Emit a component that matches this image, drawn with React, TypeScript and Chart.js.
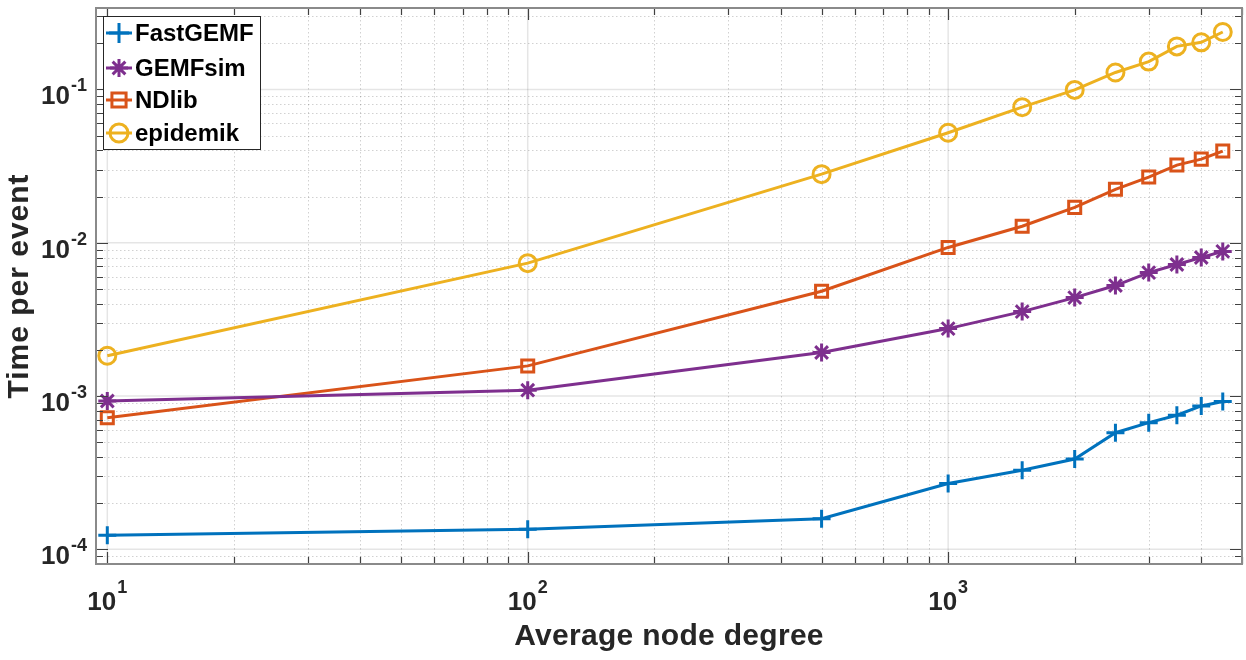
import React, { useEffect, useRef } from "react";
import { Chart, registerables } from "chart.js";

Chart.register(...registerables);

const degrees = [10, 100, 500, 1000, 1500, 2000, 2500, 3000, 3500, 4000, 4500];
const fastGEMF = [1.23e-4, 1.35e-4, 1.58e-4, 2.68e-4, 3.27e-4, 3.87e-4, 5.75e-4, 6.69e-4, 7.48e-4, 8.6e-4, 9.2e-4];
const gemfSim = [9.27e-4, 1.09e-3, 1.92e-3, 2.75e-3, 3.55e-3, 4.38e-3, 5.25e-3, 6.38e-3, 7.2e-3, 8.0e-3, 8.77e-3];
const ndlib = [7.21e-4, 1.57e-3, 4.82e-3, 9.31e-3, 1.28e-2, 1.7e-2, 2.23e-2, 2.68e-2, 3.21e-2, 3.51e-2, 3.96e-2];
const epidemik = [1.83e-3, 7.35e-3, 2.8e-2, 5.22e-2, 7.66e-2, 9.93e-2, 0.129, 0.152, 0.191, 0.203, 0.237];

const seriesNames = ["FastGEMF", "GEMFsim", "NDlib", "epidemik"];
const seriesColors = ["#0072BD", "#7E2F8E", "#D95319", "#EDB120"];
const seriesMarkers = ["cross", "star", "rect", "circle"];
const seriesRadius = [9, 9, 8.5, 8.5];
const legendRadius = [10, 9, 10, 9];

const xMin = 9.4;
const xMax = 5000;
const yMin = 8e-5;
const yMax = 0.34;
const xTickExps = [1, 2, 3];
const yTickExps = [-4, -3, -2, -1];
const xTitle = "Average node degree";
const yTitle = "Time per event";

const W = 1246;
const H = 660;
const FONT = "'Liberation Sans', Arial, sans-serif";
const TEXT = "#262626";

function logValues(min: number, max: number) {
  const out: { v: number; major: boolean }[] = [];
  for (let d = Math.floor(Math.log10(min)); d <= Math.ceil(Math.log10(max)); d++) {
    for (let m = 1; m <= 9; m++) {
      const v = m * Math.pow(10, d);
      if (v >= min * 0.9999 && v <= max * 1.0001) out.push({ v, major: m === 1 });
    }
  }
  return out;
}

function drawPow(ctx: CanvasRenderingContext2D, exp: number, cx: number | null, right: number | null, baseY: number, supDy: number) {
  const base = "10";
  const sup = String(exp);
  ctx.font = `bold 26px ${FONT}`;
  const wb = ctx.measureText(base).width;
  ctx.font = `bold 18px ${FONT}`;
  const ws = ctx.measureText(sup).width;
  const total = wb + ws + 1;
  const x0 = cx !== null ? cx - total / 2 : (right as number) - total;
  ctx.fillStyle = TEXT;
  ctx.textAlign = "left";
  ctx.textBaseline = "alphabetic";
  ctx.font = `bold 26px ${FONT}`;
  ctx.fillText(base, x0, baseY);
  ctx.font = `bold 18px ${FONT}`;
  ctx.fillText(sup, x0 + wb + 1, baseY - supDy);
}

function drawMarker(ctx: CanvasRenderingContext2D, style: string, x: number, y: number, r: number) {
  ctx.beginPath();
  if (style === "cross") {
    ctx.moveTo(x, y - r);
    ctx.lineTo(x, y + r);
    ctx.moveTo(x - r, y);
    ctx.lineTo(x + r, y);
  } else if (style === "star") {
    ctx.moveTo(x, y - r);
    ctx.lineTo(x, y + r);
    ctx.moveTo(x - r, y);
    ctx.lineTo(x + r, y);
    const d = r * Math.SQRT1_2;
    ctx.moveTo(x - d, y - d);
    ctx.lineTo(x + d, y + d);
    ctx.moveTo(x - d, y + d);
    ctx.lineTo(x + d, y - d);
  } else if (style === "rect") {
    const s = r * Math.SQRT1_2;
    ctx.rect(x - s, y - s, 2 * s, 2 * s);
  } else {
    ctx.arc(x, y, r, 0, Math.PI * 2);
  }
  ctx.stroke();
}

const matlabPlugin = {
  id: "matlabAxes",
  beforeDatasetsDraw(chart: any) {
    const { ctx, chartArea: a, scales } = chart;
    const xs = scales.x;
    const ys = scales.y;
    ctx.save();
    ctx.lineWidth = 1;
    ctx.setLineDash([1.5, 2.5]);
    ctx.strokeStyle = "rgba(0,0,0,0.18)";
    for (const t of logValues(xMin, xMax)) {
      if (t.major) continue;
      const px = Math.round(xs.getPixelForValue(t.v)) + 0.5;
      ctx.beginPath();
      ctx.moveTo(px, a.top);
      ctx.lineTo(px, a.bottom);
      ctx.stroke();
    }
    for (const t of logValues(yMin, yMax)) {
      if (t.major) continue;
      const py = Math.round(ys.getPixelForValue(t.v)) + 0.5;
      ctx.beginPath();
      ctx.moveTo(a.left, py);
      ctx.lineTo(a.right, py);
      ctx.stroke();
    }
    ctx.setLineDash([]);
    ctx.strokeStyle = "rgba(0,0,0,0.1)";
    ctx.lineWidth = 1.5;
    for (const e of xTickExps) {
      const px = xs.getPixelForValue(Math.pow(10, e));
      ctx.beginPath();
      ctx.moveTo(px, a.top);
      ctx.lineTo(px, a.bottom);
      ctx.stroke();
    }
    for (const e of yTickExps) {
      const py = ys.getPixelForValue(Math.pow(10, e));
      ctx.beginPath();
      ctx.moveTo(a.left, py);
      ctx.lineTo(a.right, py);
      ctx.stroke();
    }
    ctx.restore();
  },
  afterDraw(chart: any) {
    const { ctx, chartArea: a, scales } = chart;
    const xs = scales.x;
    const ys = scales.y;
    ctx.save();
    ctx.strokeStyle = "#404040";
    ctx.lineWidth = 1.2;
    for (const t of logValues(xMin, xMax)) {
      const px = Math.round(xs.getPixelForValue(t.v)) + 0.5;
      const len = t.major ? 12 : 7;
      ctx.beginPath();
      ctx.moveTo(px, a.bottom);
      ctx.lineTo(px, a.bottom - len);
      ctx.moveTo(px, a.top);
      ctx.lineTo(px, a.top + len);
      ctx.stroke();
    }
    for (const t of logValues(yMin, yMax)) {
      const py = Math.round(ys.getPixelForValue(t.v)) + 0.5;
      const len = t.major ? 12 : 7;
      ctx.beginPath();
      ctx.moveTo(a.left, py);
      ctx.lineTo(a.left + len, py);
      ctx.moveTo(a.right, py);
      ctx.lineTo(a.right - len, py);
      ctx.stroke();
    }
    ctx.strokeStyle = "#8a8a8a";
    ctx.lineWidth = 2;
    ctx.strokeRect(a.left, a.top, a.right - a.left, a.bottom - a.top);

    for (const e of xTickExps) {
      const px = xs.getPixelForValue(Math.pow(10, e));
      drawPow(ctx, e, px, null, a.bottom + 46, 17);
    }
    for (const e of yTickExps) {
      const py = ys.getPixelForValue(Math.pow(10, e));
      drawPow(ctx, e, null, a.left - 9, py + 15, 13);
    }

    ctx.fillStyle = TEXT;
    ctx.textAlign = "center";
    ctx.textBaseline = "alphabetic";
    ctx.font = `bold 30px ${FONT}`;
    (ctx as any).letterSpacing = "0.3px";
    ctx.fillText(xTitle, (a.left + a.right) / 2, 645);
    ctx.save();
    (ctx as any).letterSpacing = "1px";
    ctx.translate(28, (a.top + a.bottom) / 2);
    ctx.rotate(-Math.PI / 2);
    ctx.fillText(yTitle, 0, 0);
    ctx.restore();
    (ctx as any).letterSpacing = "0px";

    const lx = 103, ly = 16, lw = 157, lh = 133;
    ctx.fillStyle = "#ffffff";
    ctx.fillRect(lx, ly, lw, lh);
    ctx.strokeStyle = "#262626";
    ctx.lineWidth = 1;
    ctx.strokeRect(lx + 0.5, ly + 0.5, lw, lh);
    const rows = [33, 68, 100, 133];
    chart.data.datasets.forEach((ds: any, i: number) => {
      const cy = rows[i];
      ctx.strokeStyle = ds.borderColor;
      ctx.lineWidth = 3;
      ctx.beginPath();
      ctx.moveTo(106, cy);
      ctx.lineTo(132, cy);
      ctx.stroke();
      drawMarker(ctx, seriesMarkers[i], 119, cy, legendRadius[i]);
      ctx.fillStyle = "#000000";
      ctx.font = `bold 24px ${FONT}`;
      ctx.textAlign = "left";
      ctx.textBaseline = "middle";
      ctx.fillText(ds.label, 135, cy + 1);
    });
    ctx.restore();
  },
};

export default function App() {
  const ref = useRef<HTMLCanvasElement | null>(null);
  useEffect(() => {
    if (!ref.current) return;
    const all = [fastGEMF, gemfSim, ndlib, epidemik];
    const chart = new Chart(ref.current, {
      type: "line",
      data: {
        datasets: all.map((vals, i) => ({
          label: seriesNames[i],
          data: degrees.map((d, j) => ({ x: d, y: vals[j] })),
          borderColor: seriesColors[i],
          backgroundColor: "rgba(0,0,0,0)",
          pointBackgroundColor: "rgba(0,0,0,0)",
          pointBorderColor: seriesColors[i],
          pointStyle: seriesMarkers[i] as any,
          pointRadius: seriesRadius[i],
          pointBorderWidth: 3,
          borderWidth: 3,
          tension: 0,
          fill: false,
          clip: 20,
        })),
      },
      options: {
        animation: false,
        responsive: false,
        maintainAspectRatio: false,
        layout: { autoPadding: false, padding: { left: 96, right: 4, top: 8, bottom: 96 } },
        plugins: { legend: { display: false }, tooltip: { enabled: false } },
        scales: {
          x: { type: "logarithmic", min: xMin, max: xMax, display: false },
          y: { type: "logarithmic", min: yMin, max: yMax, display: false },
        },
      },
      plugins: [matlabPlugin],
    });
    return () => chart.destroy();
  }, []);
  return (
    <div style={{ position: "fixed", left: 0, top: 0, width: W, height: H, background: "#ffffff", overflow: "hidden" }}>
      <canvas ref={ref} width={W} height={H} style={{ width: W, height: H, display: "block" }} />
    </div>
  );
}
